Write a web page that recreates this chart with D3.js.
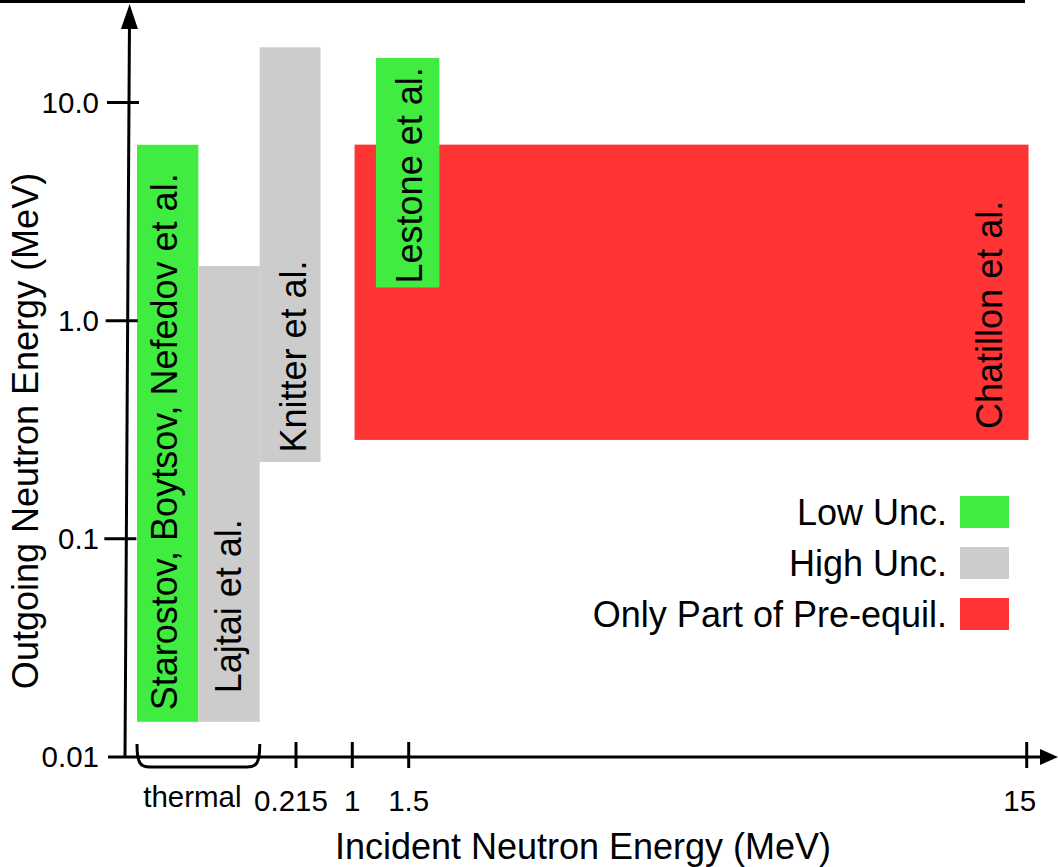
<!DOCTYPE html>
<html>
<head>
<meta charset="utf-8">
<script src="https://cdn.jsdelivr.net/npm/d3@7"></script>
<style>
  body { margin: 0; background: #fff; }
  svg { display: block; font-family: "Liberation Sans", Arial, sans-serif; }
</style>
</head>
<body>
<div id="chart"></div>
<script>
// Schematic: which (incident, outgoing) neutron energy regions each study covers.
// Incident axis is a broken, piecewise axis (thermal region + a few MeV ticks).

var studies = ["Starostov, Boytsov, Nefedov et al.", "Lajtai et al.", "Knitter et al.", "Chatillon et al.", "Lestone et al."];
var uncertainty = ["Low Unc.", "High Unc.", "High Unc.", "Only Part of Pre-equil.", "Low Unc."];
// incident energy extent (MeV, in the axis' own piecewise coordinates)
var incidentLow = [0, 0.083, 0.166, 1.02, 1.21];
var incidentHigh = [0.083, 0.166, 0.557, 15.04, 2.17];
// outgoing energy extent (MeV)
var outgoingLow = [0.0145, 0.0145, 0.225, 0.284, 1.42];
var outgoingHigh = [6.4, 1.78, 17.9, 6.41, 16.0];

var xTickValues = [0.215, 1, 1.5, 15];
var xTickLabels = ["0.215", "1", "1.5", "15"];
var thermalRange = [0, 0.166];
var thermalLabel = "thermal";
var yTickValues = [0.01, 0.1, 1, 10];
var yTickLabels = ["0.01", "0.1", "1.0", "10.0"];

var legendLabels = ["Low Unc.", "High Unc.", "Only Part of Pre-equil."];
var legendColors = ["#3fec3f", "#cccccc", "#ff3535"];

var width = 1058, height = 867;

var svg = d3.select("#chart").append("svg")
  .attr("width", width)
  .attr("height", height);

// piecewise incident scale: knots at the tick energies
var x = d3.scaleLinear()
  .domain([0, 0.215, 1, 1.5, 15])
  .range([137, 296, 352.3, 408.7, 1026.7]);

var y = d3.scaleLog()
  .domain([0.01, 10])
  .range([757, 102.5]);

var color = d3.scaleOrdinal().domain(legendLabels).range(legendColors);

// cropped rule left over along the top edge
svg.append("rect").attr("x", 0).attr("y", 0).attr("width", 1025).attr("height", 3).attr("fill", "#000");

// the vertical axis leans slightly to the right
function axisX(py) { return 125 + (757 - py) * 0.0061; }

// bars
var bars = svg.append("g");
studies.forEach(function (s, i) {
  bars.append("rect")
    .attr("x", x(incidentLow[i]))
    .attr("y", y(outgoingHigh[i]))
    .attr("width", x(incidentHigh[i]) - x(incidentLow[i]))
    .attr("height", y(outgoingLow[i]) - y(outgoingHigh[i]))
    .attr("fill", color(uncertainty[i]));
});

// bar labels: baseline offset from bar centre, start padding from bar bottom
var labelDx = [9.5, 11.5, 15.5, 310, 14];
var labelPad = [11.5, 28.5, 9.5, 11, 4];
studies.forEach(function (s, i) {
  var cx = (x(incidentLow[i]) + x(incidentHigh[i])) / 2 + labelDx[i];
  var cy = y(outgoingLow[i]) - labelPad[i];
  svg.append("text")
    .attr("transform", "translate(" + cx + "," + cy + ") rotate(-90)")
    .attr("font-size", 36)
    .attr("fill", "#000")
    .text(s);
});

// y axis line + arrow
var axisG = svg.append("g").attr("stroke", "#000").attr("stroke-width", 3);
axisG.append("line")
  .attr("x1", axisX(757)).attr("y1", 757)
  .attr("x2", axisX(26)).attr("y2", 26);
svg.append("path")
  .attr("d", "M" + axisX(4) + ",4 L" + (axisX(29) - 8.5) + ",29 L" + (axisX(29) + 8.5) + ",29 Z")
  .attr("fill", "#000");

yTickValues.forEach(function (v, i) {
  var py = y(v);
  if (i > 0) {
    axisG.append("line")
      .attr("x1", axisX(py) - 22).attr("y1", py)
      .attr("x2", axisX(py) + 10).attr("y2", py);
  }
  svg.append("text")
    .attr("x", 99).attr("y", py)
    .attr("dy", "0.35em")
    .attr("text-anchor", "end")
    .attr("font-size", 29.5)
    .text(yTickLabels[i]);
});

// x axis line + arrow
var x0 = y(0.01);
axisG.append("line")
  .attr("x1", 108).attr("y1", x0)
  .attr("x2", 1044).attr("y2", x0);
svg.append("path")
  .attr("d", "M1058," + x0 + " L1040," + (x0 - 8) + " L1040," + (x0 + 8) + " Z")
  .attr("fill", "#000");

var tickShift = [-5, 0, 0, -7];
xTickValues.forEach(function (v, i) {
  axisG.append("line")
    .attr("x1", x(v)).attr("y1", x0 - 15)
    .attr("x2", x(v)).attr("y2", x0 + 11);
  svg.append("text")
    .attr("x", x(v) + tickShift[i]).attr("y", 811)
    .attr("text-anchor", "middle")
    .attr("font-size", 29.5)
    .text(xTickLabels[i]);
});

// thermal brace
var b0 = x(thermalRange[0]), b1 = x(thermalRange[1]);
svg.append("path")
  .attr("d", "M" + b0 + "," + (x0 - 13) +
    " C" + b0 + "," + (x0 + 6) + " " + (b0 + 3) + "," + (x0 + 10) + " " + (b0 + 13) + "," + (x0 + 10) +
    " L" + (b1 - 13) + "," + (x0 + 10) +
    " C" + (b1 - 3) + "," + (x0 + 10) + " " + b1 + "," + (x0 + 6) + " " + b1 + "," + (x0 - 13))
  .attr("fill", "none")
  .attr("stroke", "#000")
  .attr("stroke-width", 3);
svg.append("text")
  .attr("x", (b0 + b1) / 2 - 6).attr("y", 807)
  .attr("text-anchor", "middle")
  .attr("font-size", 29.5)
  .text(thermalLabel);

// axis titles
svg.append("text")
  .attr("x", 583).attr("y", 859)
  .attr("text-anchor", "middle")
  .attr("font-size", 36)
  .text("Incident Neutron Energy (MeV)");
svg.append("text")
  .attr("transform", "translate(38,431) rotate(-90)")
  .attr("text-anchor", "middle")
  .attr("font-size", 36)
  .text("Outgoing Neutron Energy (MeV)");

// legend
var legend = svg.append("g");
legendLabels.forEach(function (l, i) {
  var by = 525 + i * 51;
  legend.append("text")
    .attr("x", 947).attr("y", by)
    .attr("text-anchor", "end")
    .attr("font-size", 36)
    .text(l);
  legend.append("rect")
    .attr("x", 960).attr("y", by - 29)
    .attr("width", 49).attr("height", 32)
    .attr("fill", color(l));
});
</script>
</body>
</html>
